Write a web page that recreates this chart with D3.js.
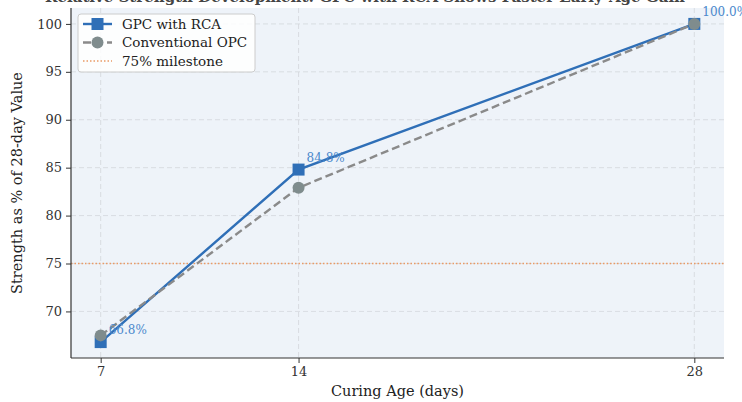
<!DOCTYPE html>
<html>
<head>
<meta charset="utf-8">
<script src="https://cdn.jsdelivr.net/npm/d3@7"></script>
<style>
  body { margin: 0; background: #fff; }
  svg { display: block; font-family: "DejaVu Serif", serif; }
</style>
</head>
<body>
<div id="chart"></div>
<script>
const curingDays = [7, 14, 28];
const gpcRca = [66.8, 84.8, 100.0];
const conventionalOpc = [67.5, 82.9, 100.0];
const milestone = 75;
const yTicks = [70, 75, 80, 85, 90, 95, 100];
const title = "Relative Strength Development: GPC with RCA Shows Faster Early-Age Gain";

const width = 742;
const height = 402;
const margin = { top: 8, right: 18, bottom: 44, left: 71 };

const svg = d3.select("#chart")
  .append("svg")
  .attr("width", width)
  .attr("height", height);

const x = d3.scaleLinear()
  .domain([5.95, 29.05])
  .range([margin.left, width - margin.right]);

const y = d3.scaleLinear()
  .domain([65.14, 101.66])
  .range([height - margin.bottom, margin.top]);

// plot background
svg.append("rect")
  .attr("x", margin.left)
  .attr("y", margin.top)
  .attr("width", width - margin.left - margin.right)
  .attr("height", height - margin.top - margin.bottom)
  .attr("fill", "#eef3f9");

// title, mostly above the visible area (cut off like in the source)
svg.append("text")
  .attr("x", 365)
  .attr("y", 2)
  .attr("text-anchor", "middle")
  .attr("font-size", 15)
  .attr("font-weight", "bold")
  .attr("fill", "#444")
  .text(title);

// grid
svg.append("g")
  .selectAll("line")
  .data(yTicks)
  .join("line")
    .attr("x1", margin.left)
    .attr("x2", width - margin.right)
    .attr("y1", d => y(d))
    .attr("y2", d => y(d))
    .attr("stroke", "#d3d7dc")
    .attr("stroke-dasharray", "5,3")
    .attr("stroke-width", 0.8);

svg.append("g")
  .selectAll("line")
  .data(curingDays)
  .join("line")
    .attr("x1", d => x(d))
    .attr("x2", d => x(d))
    .attr("y1", margin.top)
    .attr("y2", height - margin.bottom)
    .attr("stroke", "#d3d7dc")
    .attr("stroke-dasharray", "5,3")
    .attr("stroke-width", 0.8);

// 75% milestone
svg.append("line")
  .attr("x1", margin.left)
  .attr("x2", width - margin.right)
  .attr("y1", y(milestone))
  .attr("y2", y(milestone))
  .attr("stroke", "#e99a66")
  .attr("stroke-width", 1.4)
  .attr("stroke-dasharray", "1.5,2");

// axes
function xAxis(g) {
  g.attr("transform", `translate(0,${height - margin.bottom})`)
    .call(d3.axisBottom(x).tickValues(curingDays).tickSize(5).tickPadding(4).tickFormat(d3.format("d")))
    .attr("font-family", "DejaVu Serif, serif")
    .attr("font-size", 13);
  g.select(".domain").attr("stroke", "#333").attr("stroke-width", 1.2)
    .attr("d", `M${margin.left},0H${width - margin.right}`);
  g.selectAll(".tick line").attr("stroke", "#333");
  g.selectAll(".tick text").attr("fill", "#333");
}

function yAxis(g) {
  g.attr("transform", `translate(${margin.left},0)`)
    .call(d3.axisLeft(y).tickValues(yTicks).tickSize(5).tickPadding(4))
    .attr("font-family", "DejaVu Serif, serif")
    .attr("font-size", 13);
  g.select(".domain").attr("stroke", "#333").attr("stroke-width", 1.2)
    .attr("d", `M0,${margin.top}V${height - margin.bottom}`);
  g.selectAll(".tick line").attr("stroke", "#333");
  g.selectAll(".tick text").attr("fill", "#333");
}

svg.append("g").call(xAxis);
svg.append("g").call(yAxis);

svg.append("text")
  .attr("x", (margin.left + width - margin.right) / 2)
  .attr("y", 396)
  .attr("text-anchor", "middle")
  .attr("font-size", 14.5)
  .attr("fill", "#222")
  .text("Curing Age (days)");

svg.append("text")
  .attr("transform", `translate(22,${(margin.top + height - margin.bottom) / 2}) rotate(-90)`)
  .attr("text-anchor", "middle")
  .attr("font-size", 14.5)
  .attr("fill", "#222")
  .text("Strength as % of 28-day Value");

// series
const line = d3.line()
  .x((d, i) => x(curingDays[i]))
  .y(d => y(d));

const blue = "#2f6fb7";
const grey = "#7f8c8d";

svg.append("path")
  .datum(gpcRca)
  .attr("d", line)
  .attr("fill", "none")
  .attr("stroke", blue)
  .attr("stroke-width", 2.4);

svg.append("g")
  .selectAll("rect")
  .data(gpcRca)
  .join("rect")
    .attr("x", (d, i) => x(curingDays[i]) - 6)
    .attr("y", d => y(d) - 6)
    .attr("width", 12)
    .attr("height", 12)
    .attr("fill", blue);

svg.append("path")
  .datum(conventionalOpc)
  .attr("d", line)
  .attr("fill", "none")
  .attr("stroke", "#8a8a8a")
  .attr("stroke-width", 2.4)
  .attr("stroke-dasharray", "8,4");

svg.append("g")
  .selectAll("circle")
  .data(conventionalOpc)
  .join("circle")
    .attr("cx", (d, i) => x(curingDays[i]))
    .attr("cy", d => y(d))
    .attr("r", 6)
    .attr("fill", grey);

// value labels
svg.append("g")
  .selectAll("text")
  .data(gpcRca)
  .join("text")
    .attr("x", (d, i) => x(curingDays[i]) + 8)
    .attr("y", d => y(d) - 8)
    .attr("font-size", 12)
    .attr("fill", "#4a88cc")
    .text(d => d.toFixed(1) + "%");

// legend
const legend = svg.append("g").attr("transform", "translate(78,14)");
legend.append("rect")
  .attr("width", 177)
  .attr("height", 58)
  .attr("rx", 3)
  .attr("fill", "#fff")
  .attr("fill-opacity", 0.85)
  .attr("stroke", "#ccc");

const items = [
  { label: "GPC with RCA", type: "square" },
  { label: "Conventional OPC", type: "circle" },
  { label: "75% milestone", type: "dotted" }
];

items.forEach((item, i) => {
  const g = legend.append("g").attr("transform", `translate(0,${10 + i * 18.5})`);
  if (item.type === "square") {
    g.append("line").attr("x1", 5).attr("x2", 34).attr("stroke", blue).attr("stroke-width", 2.4);
    g.append("rect").attr("x", 13.5).attr("y", -6).attr("width", 12).attr("height", 12).attr("fill", blue);
  } else if (item.type === "circle") {
    g.append("line").attr("x1", 5).attr("x2", 34).attr("stroke", "#8a8a8a").attr("stroke-width", 2.4).attr("stroke-dasharray", "8,4");
    g.append("circle").attr("cx", 19.5).attr("r", 6).attr("fill", grey);
  } else {
    g.append("line").attr("x1", 5).attr("x2", 34).attr("stroke", "#e99a66").attr("stroke-width", 1.4).attr("stroke-dasharray", "1.5,2");
  }
  g.append("text")
    .attr("x", 44)
    .attr("y", 4.5)
    .attr("font-size", 13.5)
    .attr("fill", "#222")
    .text(item.label);
});
</script>
</body>
</html>
